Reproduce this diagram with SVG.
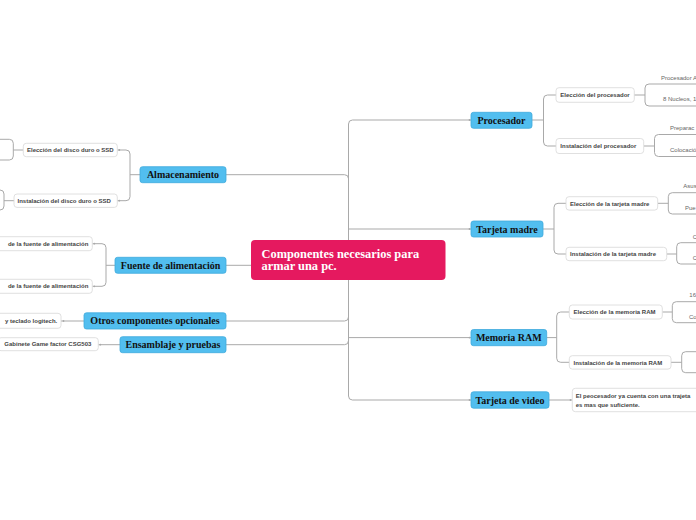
<svg xmlns="http://www.w3.org/2000/svg" width="696" height="520" viewBox="0 0 696 520">
<defs>
<style>
.c{fill:none;stroke:#a9a9a9;stroke-width:1}
.m rect{fill:#52BEEF;stroke:#3FA9DC;stroke-width:0.8}
.m text{font-family:"Liberation Serif",serif;font-weight:bold;font-size:10px;fill:#111;text-anchor:middle}
.s rect{fill:#fff;stroke:#d8d8d8;stroke-width:0.8}
.s text{font-family:"Liberation Sans",Arial,sans-serif;font-weight:bold;font-size:6px;fill:#444}
.u{font-family:"Liberation Sans",Arial,sans-serif;font-size:6px;fill:#666}
.d{fill:#a9a9a9}
</style>
</defs>
<rect width="696" height="520" fill="#fff"/>
<g id="connectors">
<path class="c" d="M471,120 H352.5 Q348.5,120 348.5,124 V396 Q348.5,400 352.5,400 H471"/>
<path class="c" d="M348.5,229 H471"/>
<path class="c" d="M348.5,337.6 H471"/>
<path class="c" d="M226,174.7 H344.5 Q348.5,174.7 348.5,178.7"/>
<path class="c" d="M226,321 H344.5 Q348.5,321 348.5,317"/>
<path class="c" d="M226,344.7 H344.5 Q348.5,344.7 348.5,340.7"/>
<path class="c" d="M226,265.3 H251"/>
<path class="c" d="M532,120 H543.5"/>
<path class="c" d="M556,95 H547.5 Q543.5,95 543.5,99 V142 Q543.5,146 547.5,146 H556"/>
<path class="c" d="M634,95 H645"/>
<path class="c" d="M700,84 H649 Q645,84 645,88 V102 Q645,106 649,106 H700"/>
<path class="c" d="M644,146 H654.5"/>
<path class="c" d="M700,134.5 H658.5 Q654.5,134.5 654.5,138.5 V152.5 Q654.5,156.5 658.5,156.5 H700"/>
<path class="c" d="M543,229 H554"/>
<path class="c" d="M566,203.3 H558 Q554,203.3 554,207.3 V250 Q554,254 558,254 H566"/>
<path class="c" d="M658,203.3 H668.3"/>
<path class="c" d="M700,192.7 H672.3 Q668.3,192.7 668.3,196.7 V210 Q668.3,214 672.3,214 H700"/>
<path class="c" d="M667,254 H676.7"/>
<path class="c" d="M700,242.7 H680.7 Q676.7,242.7 676.7,246.7 V260 Q676.7,264 680.7,264 H700"/>
<path class="c" d="M547,337.6 H556.7"/>
<path class="c" d="M569.3,312 H560.7 Q556.7,312 556.7,316 V358.3 Q556.7,362.3 560.7,362.3 H569.3"/>
<path class="c" d="M662.3,312 H672.3"/>
<path class="c" d="M700,301.7 H676.3 Q672.3,301.7 672.3,305.7 V318.7 Q672.3,322.7 676.3,322.7 H700"/>
<path class="c" d="M671,362.3 H681.7"/>
<path class="c" d="M700,351.7 H685.7 Q681.7,351.7 681.7,355.7 V368.7 Q681.7,372.7 685.7,372.7 H700"/>
<path class="c" d="M549,400 H572.3"/>
<path class="c" d="M140,174.7 H130"/>
<path class="c" d="M117.3,150 H126 Q130,150 130,154 V196.7 Q130,200.7 126,200.7 H117.3"/>
<path class="c" d="M23.3,150 H13.3"/>
<path class="c" d="M-5,139.3 H9.3 Q13.3,139.3 13.3,143.3 V156 Q13.3,160 9.3,160 H-5"/>
<path class="c" d="M14,200.7 H4"/>
<path class="c" d="M-10,190 H0 Q4,190 4,194 V206 Q4,210 0,210 H-10"/>
<path class="c" d="M115,265.3 H106"/>
<path class="c" d="M92.3,243.7 H102 Q106,243.7 106,247.7 V282.3 Q106,286.3 102,286.3 H92.3"/>
<path class="c" d="M84,321 H61"/>
<path class="c" d="M120,344.7 H98.3"/>
<circle class="d" cx="119.3" cy="150" r="0.9"/>
<circle class="d" cx="119.3" cy="200.7" r="0.9"/>
<circle class="d" cx="94.3" cy="243.7" r="0.9"/>
<circle class="d" cx="94.3" cy="286.3" r="0.9"/>
<circle class="d" cx="63.5" cy="321" r="0.9"/>
<circle class="d" cx="100.3" cy="344.7" r="0.9"/>
<circle class="d" cx="469.5" cy="120" r="0.9"/>
<circle class="d" cx="469.5" cy="229" r="0.9"/>
<circle class="d" cx="469.5" cy="337.6" r="0.9"/>
<circle class="d" cx="469.5" cy="400" r="0.9"/>
<circle class="d" cx="570.5" cy="400" r="0.9"/>
</g>
<g id="center">
<rect x="251" y="240" width="194.5" height="40" rx="4" fill="#E5195F"/>
<text x="261.5" y="257.5" font-family="Liberation Serif,serif" font-weight="bold" font-size="12.4" fill="#fff">Componentes necesarios para</text>
<text x="261.5" y="270" font-family="Liberation Serif,serif" font-weight="bold" font-size="12.4" fill="#fff">armar una pc.</text>
</g>
<g id="procesador" class="m"><rect x="471" y="112.3" width="61" height="16" rx="2.5"/><text x="501.5" y="123.8">Procesador</text></g>
<g id="tarjeta-madre" class="m"><rect x="471" y="221" width="72" height="16" rx="2.5"/><text x="507" y="232.5">Tarjeta madre</text></g>
<g id="memoria-ram" class="m"><rect x="471" y="329.5" width="75.7" height="16.2" rx="2.5"/><text x="508.8" y="341.1">Memoria RAM</text></g>
<g id="tarjeta-video" class="m"><rect x="471" y="391.8" width="78" height="16.4" rx="2.5"/><text x="510" y="403.5">Tarjeta de video</text></g>
<g id="almacenamiento" class="m"><rect x="140" y="166.7" width="86" height="16" rx="2.5"/><text x="183" y="178.2">Almacenamiento</text></g>
<g id="fuente" class="m"><rect x="115" y="257.3" width="111" height="16" rx="2.5"/><text x="170.5" y="268.8">Fuente de alimentación</text></g>
<g id="otros" class="m"><rect x="84" y="312.8" width="142" height="16.2" rx="2.5"/><text x="155" y="324.4">Otros componentes opcionales</text></g>
<g id="ensamblaje" class="m"><rect x="120" y="336.7" width="106" height="16" rx="2.5"/><text x="173" y="348.2">Ensamblaje y pruebas</text></g>
<g id="eleccion-procesador" class="s"><rect x="556" y="87.7" width="78.3" height="14.6" rx="3"/><text x="560.3" y="97.1">Elección del procesador</text></g>
<g id="instalacion-procesador" class="s"><rect x="556" y="138.5" width="87.7" height="15" rx="3"/><text x="560.3" y="148.1">Instalación del procesador</text></g>
<g id="eleccion-procesador-items"><text class="u" x="661" y="80">Procesador A</text><text class="u" x="663" y="101">8 Nucleos, 1</text></g>
<g id="instalacion-procesador-items"><text class="u" x="670" y="130.2">Preparac</text><text class="u" x="670" y="151.8">Colocació</text></g>
<g id="eleccion-tarjeta" class="s"><rect x="566" y="196.7" width="91.7" height="13.4" rx="3"/><text x="570" y="205.5">Elección de la tarjeta madre</text></g>
<g id="instalacion-tarjeta" class="s"><rect x="566" y="247.3" width="100.7" height="13.4" rx="3"/><text x="570" y="256.1">Instalación de la tarjeta madre</text></g>
<g id="eleccion-tarjeta-items"><text class="u" x="683.3" y="188">Asus</text><text class="u" x="685" y="210">Pue</text></g>
<g id="instalacion-tarjeta-items"><text class="u" x="692.7" y="239">C</text><text class="u" x="692.7" y="259.6">C</text></g>
<g id="eleccion-ram" class="s"><rect x="569.3" y="305" width="93" height="14" rx="3"/><text x="573.5" y="314.1">Elección de la memoria RAM</text></g>
<g id="instalacion-ram" class="s"><rect x="569.3" y="355.7" width="101.7" height="13.4" rx="3"/><text x="573.5" y="364.5">Instalación de la memoria RAM</text></g>
<g id="eleccion-ram-items"><text class="u" x="689.3" y="297.3">16</text><text class="u" x="689" y="319">Co</text></g>
<g id="video-nota" class="s"><rect x="572.3" y="388.3" width="130" height="23.4" rx="3"/><text x="575.7" y="397.8" font-weight="normal" font-size="6.2">El peocesador ya cuenta con una trajeta</text><text x="575.7" y="406.5" font-weight="normal" font-size="6.2">es mas que suficiente.</text></g>
<g id="eleccion-disco" class="s"><rect x="23.3" y="143.3" width="94" height="13.4" rx="3"/><text x="27" y="152.1">Elección del disco duro o SSD</text></g>
<g id="instalacion-disco" class="s"><rect x="14" y="194" width="103.3" height="13.4" rx="3"/><text x="17.5" y="202.8">Instalación del disco duro o SSD</text></g>
<g id="eleccion-fuente" class="s"><rect x="-20" y="236.7" width="112.3" height="14" rx="3"/><text x="88.3" y="245.8" text-anchor="end">de la fuente de alimentación</text></g>
<g id="instalacion-fuente" class="s"><rect x="-20" y="279.3" width="112.3" height="14" rx="3"/><text x="88.3" y="288.4" text-anchor="end">de la fuente de alimentación</text></g>
<g id="otros-item" class="s"><rect x="-20" y="313.3" width="81" height="15" rx="3"/><text x="57.3" y="323" text-anchor="end" font-size="6">y teclado logitech.</text></g>
<g id="gabinete" class="s"><rect x="-2" y="337.7" width="100.3" height="13" rx="3"/><text x="4.3" y="346.3">Gabinete Game factor CSG503</text></g>
</svg>
